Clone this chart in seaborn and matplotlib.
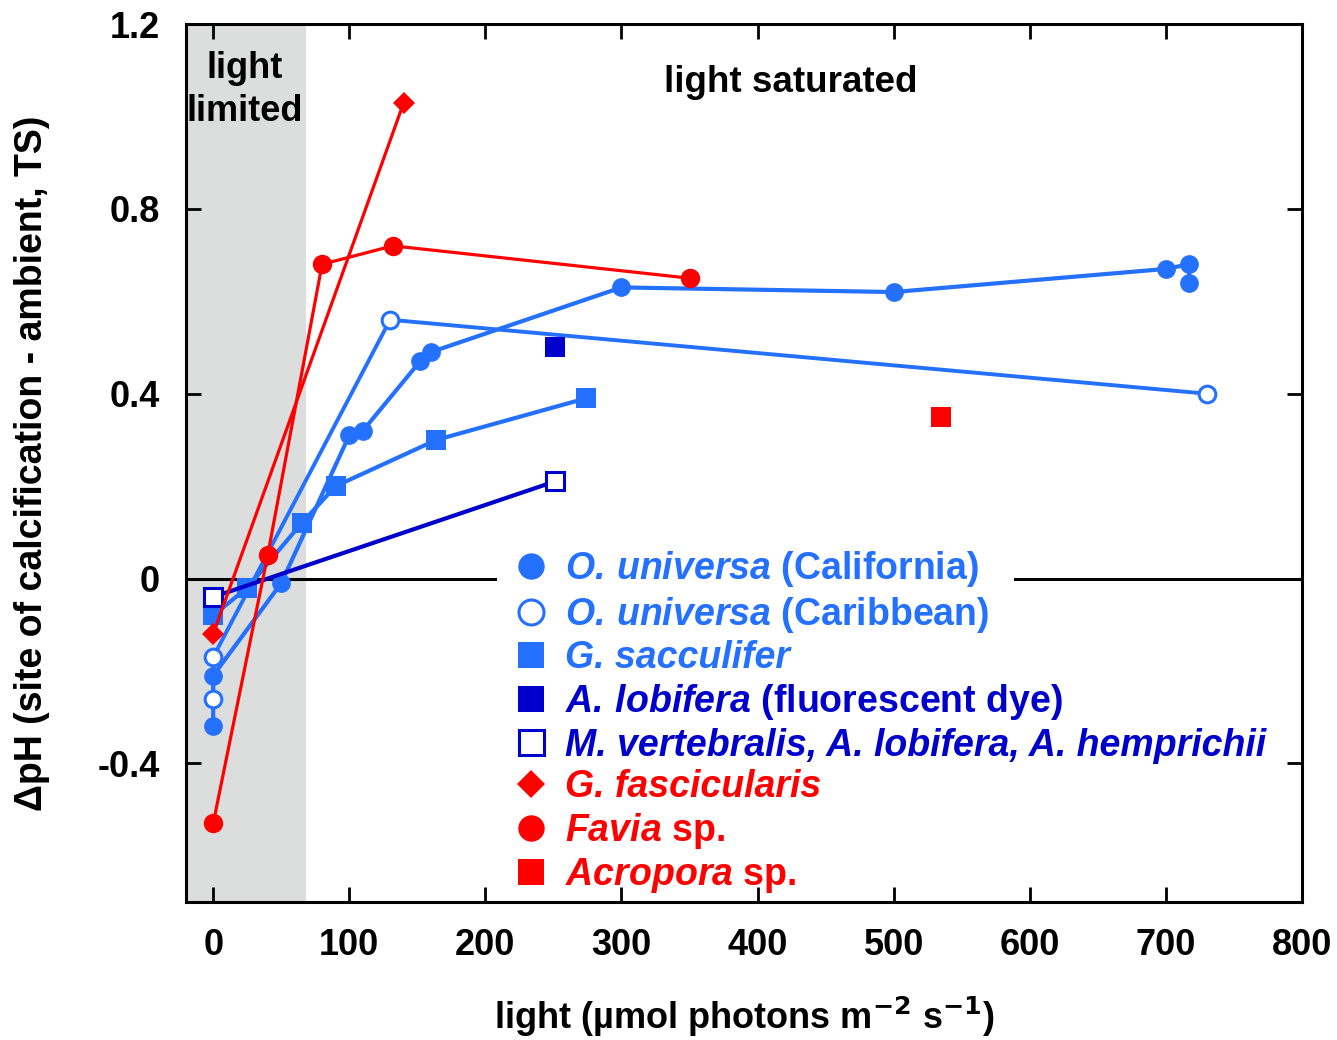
import numpy as np
import pandas as pd
import matplotlib
matplotlib.use("Agg")
import matplotlib.pyplot as plt
from matplotlib.lines import Line2D
from matplotlib.patches import Rectangle
from matplotlib.transforms import IdentityTransform
import seaborn as sns

# ---- data: light (umol photons m-2 s-1) vs delta pH ----
# O. universa (California), filled circles
cal_light = [0, 0, 50, 100, 110, 152, 160, 300, 500, 700, 717, 717]
cal_dph = [-0.32, -0.21, -0.01, 0.31, 0.32, 0.47, 0.49, 0.63, 0.62, 0.67, 0.68, 0.64]
# O. universa (Caribbean), open circles
car_light = [0, 0, 130, 730]
car_dph = [-0.26, -0.17, 0.56, 0.40]
# G. sacculifer, filled squares
sac_light = [0, 25, 65, 90, 164, 274]
sac_dph = [-0.08, -0.02, 0.12, 0.20, 0.30, 0.39]
# A. lobifera (fluorescent dye)
lob_light = [251]
lob_dph = [0.50]
# M. vertebralis, A. lobifera, A. hemprichii
mv_light = [0, 251]
mv_dph = [-0.04, 0.21]
# G. fascicularis
gf_light = [0, 140]
gf_dph = [-0.12, 1.03]
# Favia sp.
fav_light = [0, 40, 80, 132, 350]
fav_dph = [-0.53, 0.05, 0.68, 0.72, 0.65]
# Acropora sp.
acr_light = [535]
acr_dph = [0.35]

x_ticks = [0, 100, 200, 300, 400, 500, 600, 700, 800]
y_ticks = [-0.4, 0, 0.4, 0.8, 1.2]
y_ticklabels = ["-0.4", "0", "0.4", "0.8", "1.2"]

BLUE = "#2470ff"
DARK = "#0000cc"
RED = "#ff0000"

sns.set_style("ticks")
plt.rcParams.update({
    "font.family": ["Liberation Sans", "DejaVu Sans"],
    "font.weight": "bold",
    "axes.labelweight": "bold",
    "text.color": "black",
    "axes.labelcolor": "black",
    "axes.edgecolor": "black",
    "xtick.color": "black",
    "ytick.color": "black",
    "mathtext.fontset": "custom",
    "mathtext.rm": "Liberation Sans:bold",
    "mathtext.bf": "Liberation Sans:bold",
    "mathtext.it": "Liberation Sans:bold:italic",
    "mathtext.bfit": "Liberation Sans:bold:italic",
})

fig = plt.figure(figsize=(13.37, 10.40), dpi=100)
ax = fig.add_axes([0.1391, 0.1327, 0.9738 - 0.1391, 0.9769 - 0.1327])

ax.axvspan(-20, 68, color="#dcdddd", lw=0, zorder=0)
ax.axhline(0, color="black", lw=2.2, zorder=1)


def draw(x, y, color, marker, ms, lw, face=None, mew=0.0, z=3):
    df = pd.DataFrame({"light": x, "dph": y})
    sns.lineplot(data=df, x="light", y="dph", ax=ax, sort=False, estimator=None,
                 color=color, lw=lw, marker=marker, markersize=ms,
                 markerfacecolor=face if face is not None else color,
                 markeredgecolor=color, markeredgewidth=mew, zorder=z)


draw(cal_light, cal_dph, BLUE, "o", 13.5, 3.0)
draw(car_light, car_dph, BLUE, "o", 12, 2.8, face="white", mew=2.2)
draw(sac_light, sac_dph, BLUE, "s", 15, 3.0)
draw(lob_light, lob_dph, DARK, "s", 15, 2.8)
draw(mv_light, mv_dph, DARK, "s", 13.5, 3.0, face="white", mew=2.2, z=4)
draw(gf_light, gf_dph, RED, "D", 11, 2.3, z=5)
draw(fav_light, fav_dph, RED, "o", 14, 2.3, z=5)
draw(acr_light, acr_dph, RED, "s", 15, 2.3, z=5)

ax.set_xlim(-20, 800)
ax.set_ylim(-0.70, 1.2)
ax.set_xticks(x_ticks)
ax.set_yticks(y_ticks)
ax.set_yticklabels(y_ticklabels)
ax.tick_params(direction="in", length=11, width=2, top=True, right=True,
               pad=19, labelsize=26)
for s in ax.spines.values():
    s.set_linewidth(2.2)
    s.set_visible(True)

ax.set_xlabel(r"light (µmol photons m$^{\mathsf{-2}}$ s$^{\mathsf{-1}}$)", fontsize=26, fontweight="bold")
ax.set_ylabel("ΔpH (site of calcification - ambient, TS)", fontsize=27, fontweight="bold")
ax.xaxis.set_label_coords(0.5, -0.106)
ax.yaxis.set_label_coords(-0.122, 0.5)

ax.text(424.7, 1.073, "light saturated", ha="center", va="center",
        fontsize=26.5, fontweight="bold", zorder=6)
ax.text(23.5, 1.057, "light\nlimited", ha="center", va="center",
        fontsize=26, fontweight="bold", linespacing=1.3, zorder=6)

# legend
handles = [
    Line2D([], [], ls="none", marker="o", ms=19, mfc=BLUE, mec=BLUE, mew=0),
    Line2D([], [], ls="none", marker="o", ms=18, mfc="white", mec=BLUE, mew=2.2),
    Line2D([], [], ls="none", marker="s", ms=19, mfc=BLUE, mec=BLUE, mew=0),
    Line2D([], [], ls="none", marker="s", ms=19, mfc=DARK, mec=DARK, mew=0),
    Line2D([], [], ls="none", marker="s", ms=18, mfc="white", mec=DARK, mew=2.2),
    Line2D([], [], ls="none", marker="D", ms=14, mfc=RED, mec=RED, mew=0),
    Line2D([], [], ls="none", marker="o", ms=19, mfc=RED, mec=RED, mew=0),
    Line2D([], [], ls="none", marker="s", ms=19, mfc=RED, mec=RED, mew=0),
]
labels = [
    r"$\mathbfit{O.\!}$ $\mathbfit{universa}$ (California)",
    r"$\mathbfit{O.\!}$ $\mathbfit{universa}$ (Caribbean)",
    "G. sacculifer",
    r"$\mathbfit{A.\!}$ $\mathbfit{lobifera}$ (fluorescent dye)",
    "M. vertebralis, A. lobifera, A. hemprichii",
    "G. fascicularis",
    r"$\mathbfit{Favia}$ sp.",
    r"$\mathbfit{Acropora}$ sp.",
]
label_colors = [BLUE, BLUE, BLUE, DARK, DARK, RED, RED, RED]
full_italic = [False, False, True, False, True, True, False, False]

leg = ax.legend(handles, labels, loc="upper left", bbox_to_anchor=(0.293, 0.402),
                frameon=False, prop=dict(family="Liberation Sans", weight="bold", size=27),
                handlelength=0.95, handletextpad=0.45, labelspacing=0.15,
                borderpad=0, borderaxespad=0)
leg.set_zorder(8)
for t, c, it in zip(leg.get_texts(), label_colors, full_italic):
    t.set_color(c)
    if it:
        t.set_fontstyle("italic")

# white band behind the first legend row so the zero line stops at it
fig.canvas.draw()
r = fig.canvas.get_renderer()
lb = leg.get_window_extent(r)
tb = leg.get_texts()[0].get_window_extent(r)
band = Rectangle((lb.x0 - 16, tb.y0 - 4), (tb.x1 + 35) - (lb.x0 - 16), tb.height + 8,
                 transform=IdentityTransform(), facecolor="white", edgecolor="none",
                 zorder=2)
ax.add_patch(band)

fig.savefig("out.png", dpi=100)
